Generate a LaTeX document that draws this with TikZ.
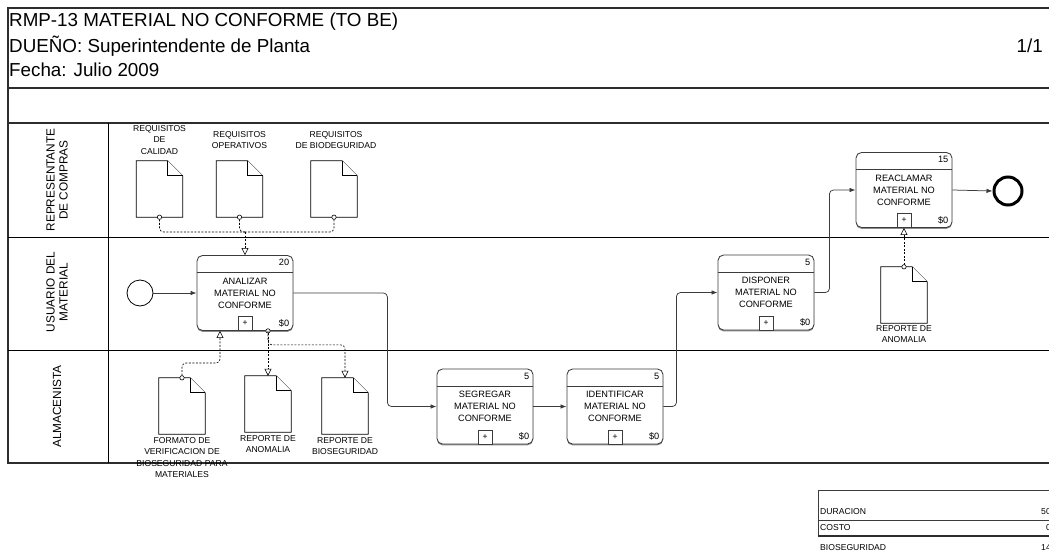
\documentclass[tikz,border=0pt]{standalone}
\usepackage{fontspec}
\setmainfont{Liberation Sans}
\usetikzlibrary{arrows.meta,positioning,shadows}
\definecolor{frameline}{RGB}{45,45,45}
\definecolor{boxline}{RGB}{60,60,60}
\definecolor{shadowgray}{RGB}{140,140,140}

\tikzset{
  ocirc/.tip={Circle[open,length=5pt,fill=white]},
  otri/.tip={Triangle[open,length=7pt,width=7pt,fill=white]}
}

\begin{document}
\begin{tikzpicture}[x=1pt, y=-1pt,
  frame/.style={draw=frameline, line width=1.6pt},
  sep/.style={draw=black, line width=0.9pt},
  head/.style={anchor=west, inner sep=0pt, font=\fontsize{18.8}{24}\selectfont},
  lane/.style={rotate=90, align=center, font=\fontsize{11.8}{13}\selectfont},
  task/.style={draw=boxline, fill=white, rounded corners=5.5pt, line width=0.85pt,
               minimum width=96pt, minimum height=75pt, inner sep=0pt, align=center,
               font=\fontsize{9.2}{12}\selectfont,
               drop shadow={shadow xshift=0pt, shadow yshift=-1.4pt, fill=shadowgray, opacity=1}},
  tasknum/.style={inner sep=0pt, font=\fontsize{9.2}{10}\selectfont},
  plusbox/.style={draw=boxline, line width=0.8pt, fill=white, minimum size=14pt,
                  inner sep=0pt, font=\fontsize{8.5}{8.5}\selectfont},
  doc/.style={minimum width=46pt, minimum height=56pt, inner sep=0pt},
  docline/.style={draw=black, line width=0.7pt, fill=white, line join=miter},
  lbl/.style={align=center, inner sep=1pt, font=\fontsize{8.6}{11.3}\selectfont},
  small/.style={inner sep=0pt, font=\fontsize{8.6}{9}\selectfont},
  flow/.style={-{Latex[length=6pt,width=4.5pt]}, draw=boxline, line width=0.75pt, rounded corners=4pt},
  assoc/.style={draw=black, line width=0.6pt, dash pattern=on 2pt off 1.5pt, rounded corners=4pt},
  ostart/.style={shorten <=-2.5pt}
]
  \useasboundingbox (0,0) rectangle (1049,559);

  % pool frame and lanes
  \draw[frame] (1060,8) -- (8,8) -- (8,463) -- (1060,463);
  \draw[frame] (8,88) -- (1060,88);
  \draw[frame] (8,123) -- (1060,123);
  \draw[sep] (108,123) -- (108,463);
  \draw[sep] (8,237) -- (1060,237);
  \draw[sep] (8,350) -- (1060,350);

  \node[head] (titulo) at (9,22) {RMP-13 MATERIAL NO CONFORME (TO BE)};
  \node[head] (dueno) at (9,46) {DUEÑO: Superintendente de Planta};
  \node[head, anchor=east] (pagina) at (1043,46) {1/1};
  \node[head] (fecha) at (9,70) {Fecha: Julio 2009};

  \node[lane] (compras) at (57,180) {REPRESENTANTE\\DE COMPRAS};
  \node[lane] (usuario) at (57,292) {USUARIO DEL\\MATERIAL};
  \node[lane] (almacen) at (57,406.5) {ALMACENISTA};

  % events and tasks
  \node[draw, circle, line width=0.8pt, minimum size=26pt, inner sep=0pt] (inicio) at (140,293) {};
  \node[task] (analizar) at (245,293) {ANALIZAR\\MATERIAL NO\\CONFORME};
  \node[task] (segregar) at (485,406.5) {SEGREGAR\\MATERIAL NO\\CONFORME};
  \node[task] (identificar) at (615,406.5) {IDENTIFICAR\\MATERIAL NO\\CONFORME};
  \node[task] (disponer) at (766,292.5) {DISPONER\\MATERIAL NO\\CONFORME};
  \node[task] (reclamar) at (904,190) {REACLAMAR\\MATERIAL NO\\CONFORME};
  \node[draw, circle, line width=3pt, minimum size=28pt, inner sep=0pt] (fin) at (1008,191) {};

  \foreach \t/\n in {analizar/20, segregar/5, identificar/5, disponer/5, reclamar/15} {
    \draw[boxline, line width=0.85pt] ([yshift=-17.5pt]\t.north west) -- ([yshift=-17.5pt]\t.north east);
    \node[tasknum, anchor=north east] (\t-num) at ([shift={(-4pt,-4pt)}]\t.north east) {\n};
    \node[tasknum, anchor=south east] (\t-cost) at ([shift={(-4pt,4pt)}]\t.south east) {\$0};
    \node[plusbox, anchor=south] (\t-sub) at (\t.south) {+};
  }

  % documents
  \node[doc] (reqcal) at (159.5,189) {};
  \node[doc] (reqope) at (239.5,189) {};
  \node[doc] (reqbio) at (334,189) {};
  \node[doc] (formato) at (182,406) {};
  \node[doc] (repanom) at (268,404) {};
  \node[doc] (repbio) at (345,406) {};
  \node[doc] (anomalia) at (904,295) {};

  \foreach \d in {reqcal, reqope, reqbio, formato, repanom, repbio, anomalia} {
    \draw[docline] (\d.south west) -- (\d.north west) -- ([xshift=-15pt]\d.north east)
      -- ([yshift=-15pt]\d.north east) -- (\d.south east) -- cycle;
    \draw[docline] ([xshift=-15pt]\d.north east) |- ([yshift=-15pt]\d.north east);
  }

  \node[lbl] (reqcal-t) at (159.5,140) {REQUISITOS\\DE\\CALIDAD};
  \node[lbl] (reqope-t) at (239.5,140) {REQUISITOS\\OPERATIVOS};
  \node[lbl] (reqbio-t) at (336,140) {REQUISITOS\\DE BIODEGURIDAD};
  \node[lbl, below=2pt of formato] (formato-t) {FORMATO DE\\VERIFICACION DE\\BIOSEGURIDAD PARA\\MATERIALES};
  \node[lbl, below=2pt of repanom] (repanom-t) {REPORTE DE\\ANOMALIA};
  \node[lbl, below=2pt of repbio] (repbio-t) {REPORTE DE\\BIOSEGURIDAD};
  \node[lbl, below=1pt of anomalia] (anomalia-t) {REPORTE DE\\ANOMALIA};

  % sequence flow
  \draw[flow] (inicio) -- (analizar);
  \draw[flow] (analizar.east) -- ++(94,0) |- (segregar.west);
  \draw[flow] (segregar) -- (identificar);
  \draw[flow] (identificar.east) -- ++(13,0) |- (disponer.west);
  \draw[flow] (disponer.east) -- ++(15,0) |- (reclamar.west);
  \draw[flow] (reclamar.east) -- (fin.west);

  % associations
  \coordinate (junta) at (245,232);
  \coordinate (fvb) at (220,363);
  \draw[assoc, ostart, ocirc-] (reqcal.south) |- (junta);
  \draw[assoc, ostart, ocirc-] (reqope.south) |- (junta);
  \draw[assoc, ostart, ocirc-] (reqbio.south) |- (junta);
  \draw[assoc, -otri] (junta) -- (analizar.north);
  \draw[assoc, ostart, ocirc-otri] (formato.north) |- (fvb) -- ([xshift=-25pt]analizar.south);
  \draw[assoc, ostart, ocirc-otri] ([xshift=23pt]analizar.south) -- (repanom.north);
  \draw[assoc, -otri] ([xshift=23pt]analizar.south) -- ++(0,14) -| (repbio.north);
  \draw[assoc, ostart, ocirc-otri] (anomalia.north) -- (reclamar-sub.south);

  % totals
  \draw[boxline, line width=0.8pt] (1060,490) -- (818,490) -- (818,536);
  \draw[boxline, line width=0.8pt] (818,520) -- (1060,520);
  \draw[frameline, line width=1.4pt] (818,536) -- (1060,536);
  \node[small, anchor=west] (duracion) at (820,512) {DURACION};
  \node[small, anchor=east] (duracion-v) at (1051,512) {50};
  \node[small, anchor=west] (costo) at (820,528) {COSTO};
  \node[small, anchor=east] (costo-v) at (1051,528) {0};
  \node[small, anchor=west] (bioseg) at (820,548) {BIOSEGURIDAD};
  \node[small, anchor=east] (bioseg-v) at (1051,548) {14};
\end{tikzpicture}
\end{document}
